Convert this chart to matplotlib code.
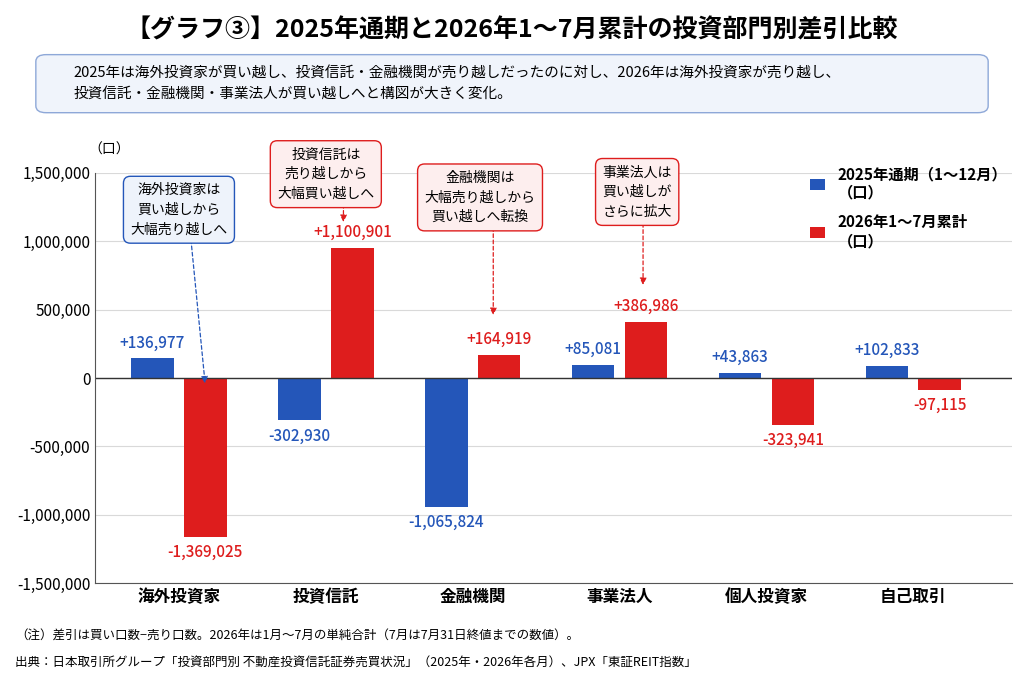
import matplotlib
matplotlib.use("Agg")
import matplotlib.pyplot as plt
from matplotlib.patches import FancyBboxPatch
import numpy as np

plt.rcParams['font.family'] = ['Noto Sans CJK JP', 'DejaVu Sans']

categories = ['海外投資家', '投資信託', '金融機関', '事業法人', '個人投資家', '自己取引']
bar_2025 = [145000, -310000, -940000, 95000, 40000, 90000]
bar_2026 = [-1160000, 950000, 170000, 410000, -340000, -85000]
label_2025 = ['+136,977', '-302,930', '-1,065,824', '+85,081', '+43,863', '+102,833']
label_2026 = ['-1,369,025', '+1,100,901', '+164,919', '+386,986', '-323,941', '-97,115']
yticks = [-1500000, -1000000, -500000, 0, 500000, 1000000, 1500000]

blue = '#2456b9'
red = '#de1d1d'

fig = plt.figure(figsize=(10.24, 6.83), dpi=100)
ax = fig.add_axes([0.093, 0.146, 0.895, 0.601])
x = np.arange(len(categories))
off, w = 0.18, 0.29
ax.bar(x - off, bar_2025, w, color=blue, label='2025年通期（1〜12月）\n（口）')
ax.bar(x + off, bar_2026, w, color=red, label='2026年1〜7月累計\n（口）')
ax.set_xlim(-0.57, 5.67)
ax.set_ylim(-1500000, 1500000)
ax.set_yticks(yticks)
ax.set_yticklabels([f'{v:,}' for v in yticks], fontsize=11)
ax.set_xticks(x)
ax.set_xticklabels(categories, fontsize=12, fontweight='bold')
ax.tick_params(length=0)
ax.grid(axis='y', color='#d9d9d9', linewidth=0.8)
ax.set_axisbelow(True)
ax.axhline(0, color='#333333', linewidth=1)
for s in ['top', 'right']:
    ax.spines[s].set_visible(False)
ax.spines['left'].set_color('#555555')
ax.spines['bottom'].set_color('#555555')
ax.text(-0.62, 1620000, '（口）', fontsize=10, ha='left', va='bottom')

for i in range(len(categories)):
    v = bar_2025[i]
    ax.text(x[i] - off, v + (50000 if v > 0 else -50000), label_2025[i], color=blue,
            fontsize=11, fontweight='medium', ha='center', va='bottom' if v > 0 else 'top')
    v = bar_2026[i]
    ax.text(x[i] + off, v + (50000 if v > 0 else -50000), label_2026[i], color=red,
            fontsize=11, fontweight='medium', ha='center', va='bottom' if v > 0 else 'top')

leg = ax.legend(loc='upper right', bbox_to_anchor=(1.01, 1.05), frameon=False,
                fontsize=11, handlelength=1.0, labelspacing=0.9)
for t in leg.get_texts():
    t.set_fontweight('bold')

# box x, box y, text, edge, face, arrow start, arrow end
notes = [
    (0.0, 1230000, '海外投資家は\n買い越しから\n大幅売り越しへ', blue, '#eef3fb', (0.08, 1030000), (0.18, -60000)),
    (1.0, 1490000, '投資信託は\n売り越しから\n大幅買い越しへ', red, '#fdeeee', (1.12, 1290000), (1.12, 1120000)),
    (2.05, 1320000, '金融機関は\n大幅売り越しから\n買い越しへ転換', red, '#fdeeee', (2.14, 1120000), (2.14, 440000)),
    (3.12, 1360000, '事業法人は\n買い越しが\nさらに拡大', red, '#fdeeee', (3.16, 1150000), (3.16, 660000)),
]
for nx, ny, txt, ec, fc, start, end in notes:
    ax.annotate('', xy=end, xytext=start,
                arrowprops=dict(arrowstyle='-|>', color=ec, linestyle=(0, (3, 2)), lw=0.9))
    ax.text(nx, ny, txt, fontsize=10, ha='center', va='center', linespacing=1.5,
            bbox=dict(boxstyle='round,pad=0.5', fc=fc, ec=ec, lw=1))

fig.text(0.5, 0.955, '【グラフ③】2025年通期と2026年1〜7月累計の投資部門別差引比較',
         fontsize=18, fontweight='bold', ha='center', va='center')
box = FancyBboxPatch((0.035, 0.835), 0.93, 0.085, boxstyle='round,pad=0,rounding_size=0.01',
                     transform=fig.transFigure, fc='#f0f4fb', ec='#8ea8d8', lw=1)
fig.patches.append(box)
fig.text(0.072, 0.878, '2025年は海外投資家が買い越し、投資信託・金融機関が売り越しだったのに対し、2026年は海外投資家が売り越し、\n投資信託・金融機関・事業法人が買い越しへと構図が大きく変化。',
         fontsize=10.5, ha='left', va='center', linespacing=1.6)
fig.text(0.015, 0.068, '（注）差引は買い口数−売り口数。2026年は1月〜7月の単純合計（7月は7月31日終値までの数値）。',
         fontsize=9, ha='left', va='center')
fig.text(0.015, 0.03, '出典：日本取引所グループ「投資部門別 不動産投資信託証券売買状況」（2025年・2026年各月）、JPX「東証REIT指数」',
         fontsize=9, ha='left', va='center')

fig.savefig('out.png', dpi=100)
